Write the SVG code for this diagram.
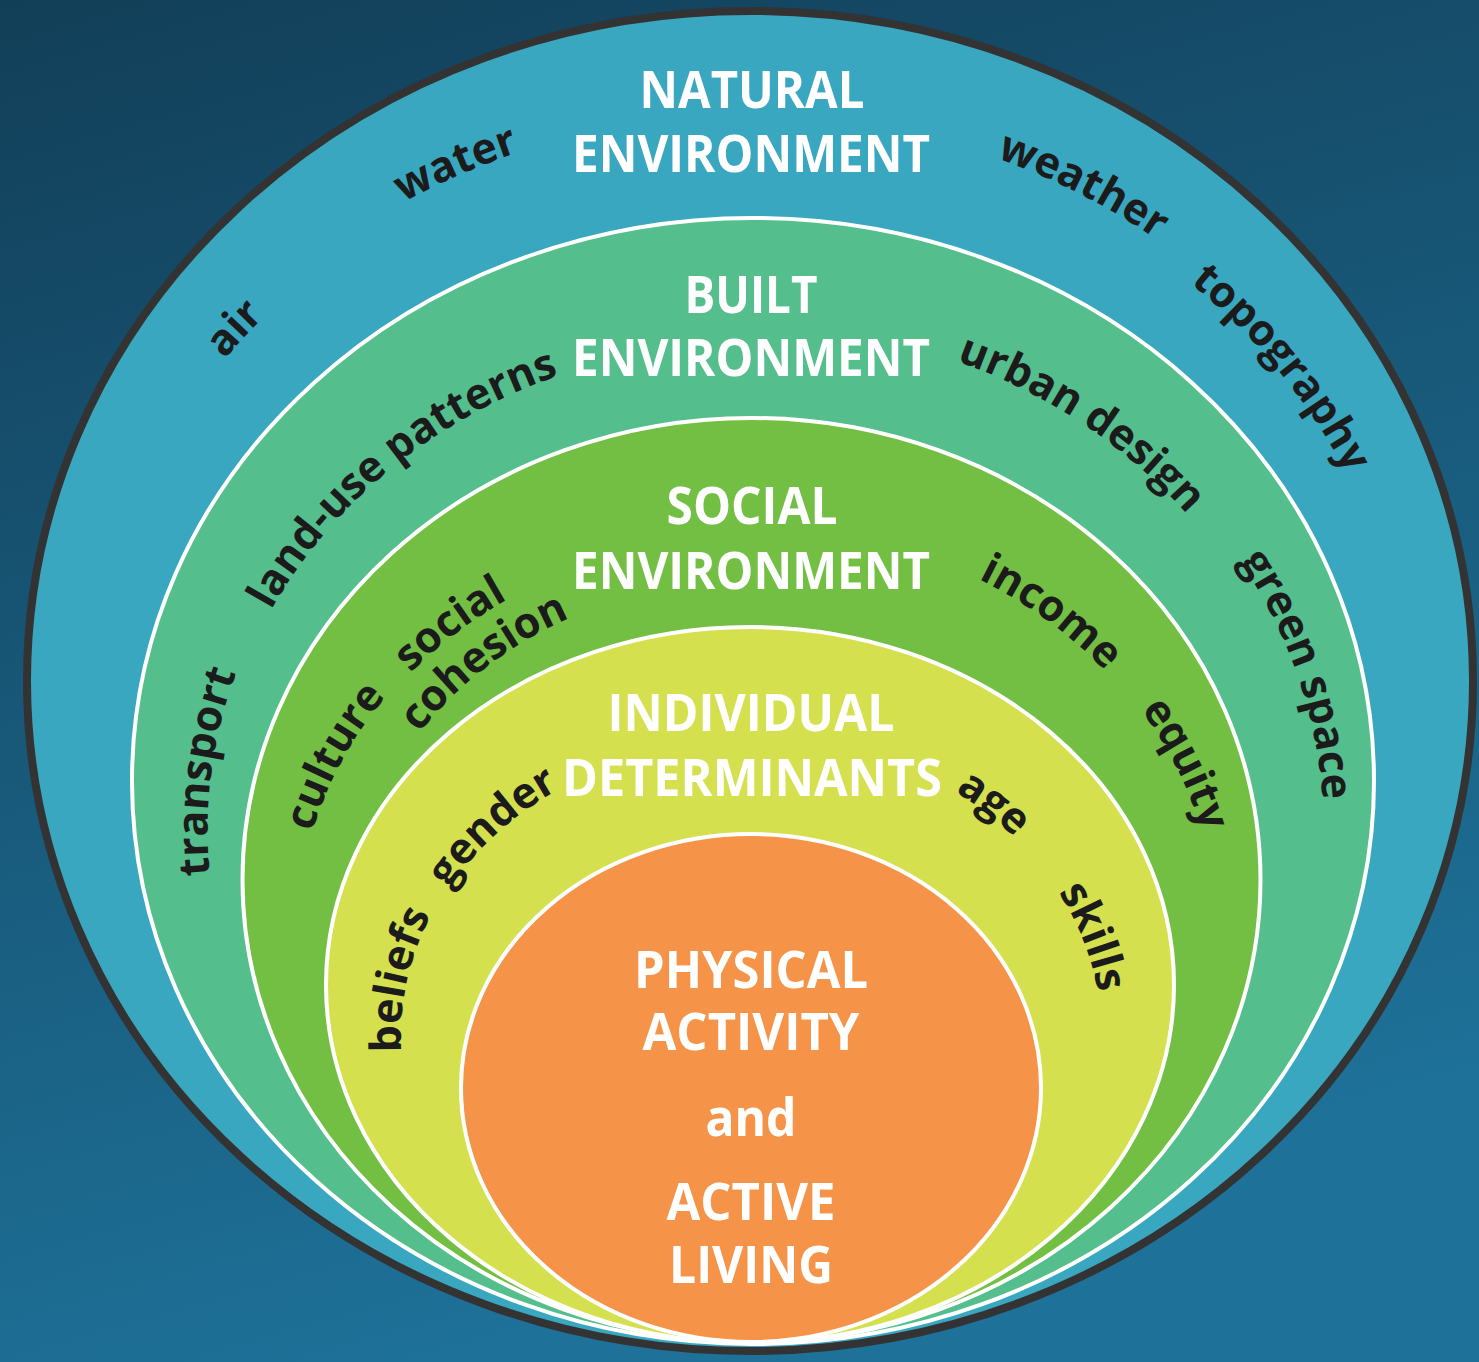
<svg xmlns="http://www.w3.org/2000/svg" width="1479" height="1362" viewBox="0 0 1479 1362">
<defs>
<linearGradient id="bg" x1="0" y1="0" x2="0.3" y2="1">
<stop offset="0" stop-color="#123f58"/>
<stop offset="1" stop-color="#1e7199"/>
</linearGradient>
<path id="p-air" d="M88.8,793.4 A665.7,607.2 0 0 1 682.6,127.0"/>
<path id="p-water" d="M110.0,535.4 A675.9,616.4 0 0 1 965.5,146.5"/>
<path id="p-weather" d="M578.7,136.2 A674.5,615.2 0 0 1 1403.1,573.8"/>
<path id="p-topography" d="M858.6,138.1 A659,601 0 0 1 1401.2,829.2"/>
<path id="p-landuse" d="M214.2,858.9 A538.7,486.8 0 0 1 813.9,346.4"/>
<path id="p-transport" d="M326.5,1136.9 A544.4,491.9 0 0 1 412.4,445.6"/>
<path id="p-urban" d="M634.1,337.2 A557.9,504.2 0 0 1 1309.5,810.6"/>
<path id="p-green" d="M979.9,356.3 A571.5,516.5 0 0 1 1228.6,1115.1"/>
<path id="p-social" d="M300.4,915.5 A451,395 0 0 1 769.9,537.3"/>
<path id="p-cohesion" d="M349.2,918.5 A402.1,352 0 0 1 766.4,580.3"/>
<path id="p-culture" d="M327.5,1073.7 A453.3,397.1 0 0 1 589.3,561.0"/>
<path id="p-income" d="M721.9,527.5 A462.7,405.3 0 0 1 1212.8,906.6"/>
<path id="p-equity" d="M930.4,556.2 A465,407.3 0 0 1 1180.0,1089.2"/>
<path id="p-gender" d="M403.4,1055.6 A347.4,295.6 0 0 1 727.0,741.0"/>
<path id="p-beliefs" d="M465.1,1207.7 A349.1,297.1 0 0 1 548.3,793.5"/>
<path id="p-age" d="M745.7,735.8 A352.7,300.2 0 0 1 1102.7,1032.3"/>
<path id="p-skills" d="M914.0,771.2 A351.6,299.3 0 0 1 1061.0,1175.6"/>
</defs>
<style>
.ring{stroke:#ffffff;stroke-width:4}
.title{font-family:"Open Sans","Liberation Sans",sans-serif;font-weight:700;font-size:52px;fill:#ffffff;text-anchor:middle}
.lbl{font-family:"Open Sans","Liberation Sans",sans-serif;font-weight:700;font-size:43px;fill:#1b1b1b;text-anchor:middle}
</style>
<rect x="0" y="0" width="1479" height="1362" fill="url(#bg)"/>

<g id="natural">
<ellipse cx="750" cy="681" rx="723" ry="670" fill="#3aa7c1"/>
<text class="title" x="752" y="108" textLength="225" lengthAdjust="spacingAndGlyphs">NATURAL</text>
<text class="title" x="751" y="172" textLength="358" lengthAdjust="spacingAndGlyphs">ENVIRONMENT</text>
<text class="lbl"><textPath href="#p-air" startOffset="50%">air</textPath></text>
<text class="lbl"><textPath href="#p-water" startOffset="50%">water</textPath></text>
<text class="lbl"><textPath href="#p-weather" startOffset="50%">weather</textPath></text>
<text class="lbl"><textPath href="#p-topography" startOffset="50%">topography</textPath></text>
</g>

<g id="built">
<ellipse class="ring" cx="753" cy="781" rx="621" ry="563" fill="#55be8d"/>
<text class="title" x="751" y="313" textLength="133" lengthAdjust="spacingAndGlyphs">BUILT</text>
<text class="title" x="751" y="376" textLength="358" lengthAdjust="spacingAndGlyphs">ENVIRONMENT</text>
<text class="lbl"><textPath href="#p-landuse" startOffset="50%">land-use patterns</textPath></text>
<text class="lbl"><textPath href="#p-transport" startOffset="50%">transport</textPath></text>
<text class="lbl"><textPath href="#p-urban" startOffset="50%">urban design</textPath></text>
<text class="lbl"><textPath href="#p-green" startOffset="50%">green space</textPath></text>
</g>

<g id="social">
<ellipse class="ring" cx="751.5" cy="880" rx="509" ry="462" fill="#73bf43"/>
<text class="title" x="752" y="524" textLength="171" lengthAdjust="spacingAndGlyphs">SOCIAL</text>
<text class="title" x="751" y="589" textLength="358" lengthAdjust="spacingAndGlyphs">ENVIRONMENT</text>
<text class="lbl"><textPath href="#p-social" startOffset="50%">social</textPath></text>
<text class="lbl"><textPath href="#p-cohesion" startOffset="50%">cohesion</textPath></text>
<text class="lbl"><textPath href="#p-culture" startOffset="50%">culture</textPath></text>
<text class="lbl"><textPath href="#p-income" startOffset="50%">income</textPath></text>
<text class="lbl"><textPath href="#p-equity" startOffset="50%">equity</textPath></text>
</g>

<g id="individual">
<ellipse class="ring" cx="750" cy="985" rx="424" ry="358" fill="#d5e04e"/>
<text class="title" x="751" y="731" textLength="287" lengthAdjust="spacingAndGlyphs">INDIVIDUAL</text>
<text class="title" x="752" y="796" textLength="380" lengthAdjust="spacingAndGlyphs">DETERMINANTS</text>
<text class="lbl"><textPath href="#p-gender" startOffset="50%">gender</textPath></text>
<text class="lbl"><textPath href="#p-beliefs" startOffset="50%">beliefs</textPath></text>
<text class="lbl"><textPath href="#p-age" startOffset="50%">age</textPath></text>
<text class="lbl"><textPath href="#p-skills" startOffset="50%">skills</textPath></text>
</g>

<g id="core">
<ellipse class="ring" cx="751" cy="1088" rx="290" ry="254" fill="#f59448"/>
<text class="title" x="751" y="988" textLength="234" lengthAdjust="spacingAndGlyphs">PHYSICAL</text>
<text class="title" x="751" y="1050" textLength="217" lengthAdjust="spacingAndGlyphs">ACTIVITY</text>
<text class="title" x="751" y="1136" textLength="91" lengthAdjust="spacingAndGlyphs">and</text>
<text class="title" x="751" y="1220" textLength="169" lengthAdjust="spacingAndGlyphs">ACTIVE</text>
<text class="title" x="751" y="1283" textLength="164" lengthAdjust="spacingAndGlyphs">LIVING</text>
</g>

<g id="outer-border">
<ellipse cx="750" cy="681" rx="723" ry="670" fill="none" stroke="#333333" stroke-width="8"/>
</g>
</svg>
